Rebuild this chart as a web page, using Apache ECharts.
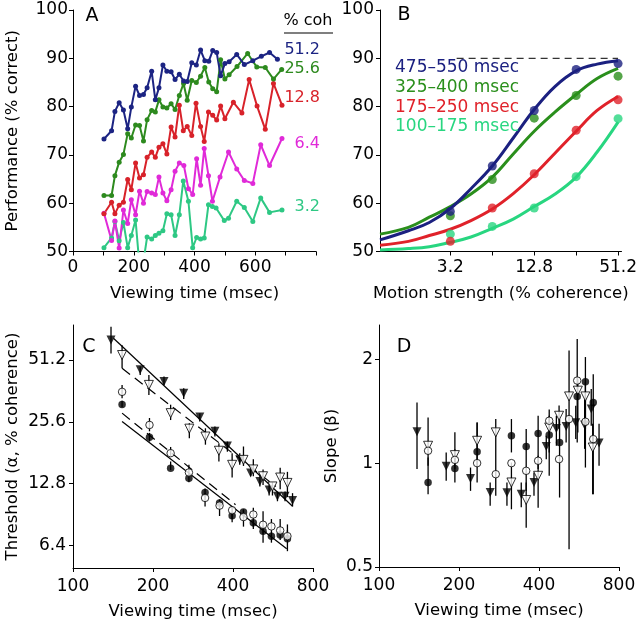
<!DOCTYPE html>
<html><head><meta charset="utf-8">
<script src="https://cdn.jsdelivr.net/npm/echarts@6/dist/echarts.min.js"></script>
<style>html,body{margin:0;padding:0;background:#fff}#c{width:640px;height:625px}</style>
</head><body><div id="c"></div>
<script>
// ---------- Panel A: performance vs viewing time ----------
const cohLabels = ['51.2', '25.6', '12.8', '6.4', '3.2'];
const blueX = [102,127,138,152,166,180,192,206,219,232,244,259,271,283,296,309,323,336,350,364,376,391,406,420,434,447,460,473,486,500,514,539,564,592,620,647,673];
const blueY = [73.3,75.0,79.0,80.8,79.3,75.4,79.9,84.2,82.3,82.5,83.9,87.3,81.4,83.9,88.6,87.3,87.2,85.6,86.7,85.3,85.2,89.1,88.6,91.7,89.5,89.4,91.6,91.2,86.4,88.9,89.3,90.8,88.7,89.5,90.4,91.2,89.8];
const greenX = [102,127,138,152,166,180,192,206,219,232,244,259,271,283,296,309,323,336,350,364,376,391,406,420,434,447,460,473,486,500,514,540,575,605,633,660,687];
const greenY = [61.6,61.6,65.7,68.5,70.1,74.4,73.5,76.2,76.1,72.9,77.3,79.2,78.9,81.4,79.9,79.7,80.6,79.4,82.3,84.8,81.3,85.4,85.0,86.3,88.1,85.1,83.7,83.1,89.7,85.7,86.6,88.3,91.0,88.2,88.1,85.7,87.7];
const redX = [102,127,138,152,166,180,192,206,219,232,244,259,271,283,296,309,323,336,350,363,376,391,405,420,432,446,460,473,486,500,528,556,580,606,633,660,688];
const redY = [57.8,60.2,57.8,59.6,60.2,64.9,62.8,68.3,65.2,65.9,69.5,70.6,69.5,71.6,72.3,70.2,75.8,73.7,80.3,75.0,75.9,74.0,80.7,75.9,72.8,78.9,78.2,77.2,80.1,77.5,80.9,78.7,85.6,80.1,75.3,84.8,80.3];
const magX = [102,127,138,152,166,180,192,206,219,232,244,259,271,283,296,309,323,336,350,365,380,394,407,420,432,446,459,484,512,539,564,592,618,647,688];
const magY = [57.9,52.3,56.3,50.7,58.6,55.8,60.7,57.6,62.5,60.0,62.4,62.1,61.8,65.4,62.1,60.5,62.8,66.6,68.3,67.8,63.0,61.8,69.2,63.7,71.3,65.7,60.4,65.4,70.6,67.1,64.7,64.1,72.1,67.8,73.4];
const tealX = [102,127,138,152,166,180,192,206,219,232,244,259,271,283,296,309,323,336,350,363,380,394,407,420,432,446,459,471,498,512,539,564,592,618,647,688];
const tealY = [50.8,52.8,56.2,52.2,56.0,50.8,53.3,56.5,47.0,48.0,53.0,52.6,53.3,53.8,54.3,57.8,57.6,53.3,57.6,64.6,60.4,50.8,52.9,52.6,52.8,59.7,59.3,59.0,56.4,56.9,60.4,59.1,56.2,61.1,58.1,58.6];

// ---------- Panel B: psychometric functions ----------
const bLabels = ['475\u2013550 msec', '325\u2013400 msec', '175\u2013250 msec', '100\u2013175 msec'];
const bCoh = [3.2, 6.4, 12.8, 25.6, 51.2];
const bLabelCoh = [3.2, 12.8, 51.2];
const b475 = [58.3, 67.7, 79.2, 87.7, 88.9];
const b325 = [57.4, 64.9, 77.6, 82.3, 86.3];
const b175 = [52.1, 59.0, 66.1, 75.1, 81.4];
const b100 = [53.6, 55.2, 59.0, 65.5, 77.5];
const fitCoh = [1.0, 1.6, 2.26, 3.2, 4.5, 6.4, 9.05, 12.8, 18.1, 25.6, 36.2, 51.2];
const fit475 = [52.4, 54.3, 56.0, 58.9, 63.0, 67.7, 73.5, 79.4, 84.2, 87.4, 88.8, 89.5];
const fit325 = [53.6, 55.0, 57.1, 59.3, 61.9, 65.4, 70.2, 74.9, 78.9, 82.5, 85.8, 87.9];
const fit175 = [51.3, 52.1, 53.3, 54.6, 56.4, 58.8, 62.0, 65.9, 70.4, 74.9, 79.2, 82.1];
const fit100 = [50.3, 50.6, 51.0, 51.9, 53.0, 54.8, 56.7, 59.3, 61.9, 65.4, 70.6, 76.8];
const dashCoh = [3.55, 51.2];
const dashVal = [90, 90];

// ---------- Panel C: threshold vs viewing time (log-log) ----------
const cTimeTicks = [100, 200, 400, 800];
const cThrTicks = [6.4, 12.8, 25.6, 51.2];
const cFtX = [139,179,220,261,300,342,381,424,466,505,547,588,628,670];
const cFtY = [64.0,45.8,40.2,35.2,27.0,23.0,19.5,16.7,14.4,13.1,11.9,11.1,11.1,10.6];
const cFtLo = [55.1,43.2,38.7,33.0,25.7,21.7,18.3,15.8,13.9,12.4,11.2,10.5,10.5,9.9];
const cFtHi = [74.3,47.5,42.5,37.3,28.2,24.3,20.5,18.0,15.6,14.2,12.6,11.7,11.7,11.5];
const cOtX = [153,193,233,274,315,354,397,438,477,519,563,602,641];
const cOtY = [54.1,38.7,28.2,23.7,21.7,18.5,15.8,16.7,15.0,13.9,12.4,13.7,12.9];
const cOtLo = [46.6,34.6,26.1,21.3,19.8,16.4,13.7,15.6,13.9,12.6,11.2,12.0,11.0];
const cOtHi = [60.4,43.2,31.0,25.2,23.8,20.1,18.0,19.4,16.8,15.0,13.0,15.3,14.6];
const cFcX = [153,194,233,273,314,356,397,438,477,519,558,602,641];
const cFcY = [31.1,21.5,15.2,13.6,11.6,10.3,8.93,9.3,8.25,7.5,7.1,7.2,6.9];
const cFcLo = [30.1,20.5,14.9,13.0,11.1,9.7,8.3,8.7,7.7,6.6,6.6,6.8,6.0];
const cFcHi = [32.4,22.6,16.4,14.3,12.1,10.7,9.1,9.5,8.5,8.0,7.4,7.6,8.1];
const cOcX = [153,194,233,273,314,356,397,438,477,519,558,602,641];
const cOcY = [35.8,24.7,18.0,14.5,10.9,10.0,9.5,8.8,9.05,8.07,7.92,7.57,7.1];
const cOcLo = [33.3,23.0,17.4,13.9,9.9,8.9,8.6,7.9,7.9,7.3,7.2,7.2,6.85];
const cOcHi = [38.7,26.7,19.3,15.8,11.5,10.7,9.9,9.6,9.75,9.4,8.6,8.6,7.6];
const cFitFtX = [142, 670], cFitFtY = [65.3, 9.93];
const cFitOtX = [153, 580], cFitOtY = [46.6, 12.4];
const cFitFcX = [153, 637], cFitFcY = [25.7, 6.16];
const cFitOcX = [153, 409], cFitOcY = [28.2, 10.1];

// ---------- Panel D: slope vs viewing time (log-log) ----------
const dSlopeTicks = [0.5, 1, 2];
const dFtX = [139,179,221,262,303,343,383,426,465,506,550,594,629,673];
const dFtY = [1.233,0.98,0.903,0.822,0.82,0.813,0.879,1.118,1.26,1.278,1.31,1.289,1.434,1.143];
const dFtLo = [0.961,0.889,0.831,0.752,0.752,0.745,0.804,1.027,1.123,1.148,1.174,1.10,1.283,0.982];
const dFtHi = [1.50,1.074,0.971,0.879,0.879,0.879,0.939,1.20,1.372,1.435,1.467,1.53,1.64,1.30];
const dOtX = [153,193,234,275,315,358,397,437,476,519,560,598,637];
const dOtY = [1.123,1.055,1.161,1.228,0.879,0.782,0.919,1.269,1.372,1.561,1.622,1.561,1.11];
const dOtLo = [0.982,0.961,0.982,0.804,0.735,0.650,0.743,0.919,1.255,0.563,1.227,1.255,0.813];
const dOtHi = [1.357,1.228,1.312,1.342,1.004,0.879,1.05,1.43,1.47,2.12,1.75,1.715,1.30];
const dFcX = [153,193,234,315,358,397,437,478,557,598,640];
const dFcY = [0.879,0.965,1.079,1.20,1.118,1.219,1.206,1.148,1.561,1.72,1.50];
const dFcLo = [0.813,0.879,0.879,1.074,0.831,0.961,1.074,0.795,1.148,0.971,0.813];
const dFcHi = [1.038,1.098,1.312,1.342,1.255,1.372,1.372,1.342,2.29,2.03,1.81];
const dOcX = [153,193,234,275,315,358,397,437,476,519,557,598,640];
const dOcY = [1.086,1.022,1.0,0.929,1.0,0.95,1.016,1.327,1.027,1.342,1.735,1.318,1.174];

// ---------- build ----------
const FONT = 'DejaVu Sans';
const COL_A = ['#1c2483', '#2d8a1e', '#d8222a', '#e02ad8', '#2ec884'];
const COL_B = ['#1b2080', '#2a8f1c', '#e0222a', '#28d680'];
const L2 = Math.log2;
const zip = (xs, ys) => xs.map((x, i) => [x, ys[i]]);
const zipLog = (xs, ys) => xs.map((x, i) => [L2(x), L2(ys[i])]);
const zipLogX = (xs, ys) => xs.map((x, i) => [L2(x), ys[i]]);
const errData = (xs, lo, hi) => xs.map((x, i) => [L2(x), L2(lo[i]), L2(hi[i])]);
const logFmt = v => String(Math.round(Math.pow(2, v) * 10) / 10);

function axis(o) {
  return Object.assign({
    type: 'value',
    axisLine: { show: true, onZero: false, lineStyle: { color: '#000', width: 1 } },
    axisTick: { show: true, length: 4, lineStyle: { color: '#000', width: 1 } },
    splitLine: { show: false },
    nameTextStyle: { color: '#000', fontSize: 16.5, fontFamily: FONT, fontWeight: 'normal' }
  }, o);
}
function lbl(o) { return Object.assign({ color: '#000', fontSize: 17, fontFamily: FONT, fontWeight: 'normal' }, o); }

function errItem(params, api) {
  const p1 = api.coord([api.value(0), api.value(1)]);
  const p2 = api.coord([api.value(0), api.value(2)]);
  return { type: 'line', shape: { x1: p1[0], y1: p1[1], x2: p2[0], y2: p2[1] },
           style: { stroke: '#000', lineWidth: 1.3 } };
}
function errSeries(gi, xs, lo, hi) {
  return { type: 'custom', xAxisIndex: gi, yAxisIndex: gi, renderItem: errItem,
           data: errData(xs, lo, hi), encode: { x: 0, y: [1, 2] }, z: 2, silent: true };
}
function markSeries(gi, data, kind) {
  const filled = kind === 'ft' || kind === 'fc';
  const tri = kind === 'ft' || kind === 'ot';
  return { type: 'scatter', xAxisIndex: gi, yAxisIndex: gi, data: data,
           symbol: tri ? 'triangle' : 'circle', symbolRotate: tri ? 180 : 0,
           symbolSize: tri ? 9 : 7.5,
           itemStyle: { color: filled ? '#000' : '#fff', borderColor: '#000', borderWidth: filled ? 0 : 1 },
           z: 4, silent: true };
}
function fitLine(gi, xs, ys, dashed) {
  return { type: 'line', xAxisIndex: gi, yAxisIndex: gi, data: zipLog(xs, ys), symbol: 'none',
           lineStyle: { color: '#000', width: 1.2, type: dashed ? [10, 6] : 'solid' }, z: 3, silent: true };
}

const aSeries = [[tealX, tealY, 4], [magX, magY, 3], [redX, redY, 2], [greenX, greenY, 1], [blueX, blueY, 0]]
  .map(([xs, ys, c]) => ({
    type: 'line', xAxisIndex: 0, yAxisIndex: 0, data: zip(xs, ys),
    symbol: 'circle', symbolSize: 5, lineStyle: { color: COL_A[c], width: 2 },
    itemStyle: { color: COL_A[c] }, z: 3, silent: true
  }));

const bPts = [b475, b325, b175, b100];
const bFits = [fit475, fit325, fit175, fit100];
const bSeries = [];
[3, 2, 1, 0].forEach(i => {
  bSeries.push({ type: 'line', xAxisIndex: 1, yAxisIndex: 1, data: zipLogX(fitCoh, bFits[i]),
    symbol: 'none', smooth: 0.4, lineStyle: { color: COL_B[i], width: 3 }, z: 3, silent: true });
  bSeries.push({ type: 'scatter', xAxisIndex: 1, yAxisIndex: 1, data: zipLogX(bCoh, bPts[i]),
    symbol: 'circle', symbolSize: 9, itemStyle: { color: COL_B[i] }, z: 4, silent: true });
});
bSeries.push({ type: 'line', xAxisIndex: 1, yAxisIndex: 1, data: zipLogX(dashCoh, dashVal), symbol: 'none',
  lineStyle: { color: '#000', width: 1, type: [7, 5] }, z: 2, silent: true });

const cSeries = [
  errSeries(2, cFtX, cFtLo, cFtHi), errSeries(2, cOtX, cOtLo, cOtHi),
  errSeries(2, cFcX, cFcLo, cFcHi), errSeries(2, cOcX, cOcLo, cOcHi),
  fitLine(2, cFitFtX, cFitFtY, false), fitLine(2, cFitOtX, cFitOtY, true),
  fitLine(2, cFitFcX, cFitFcY, false), fitLine(2, cFitOcX, cFitOcY, true),
  markSeries(2, zipLog(cFtX, cFtY), 'ft'), markSeries(2, zipLog(cOtX, cOtY), 'ot'),
  markSeries(2, zipLog(cFcX, cFcY), 'fc'), markSeries(2, zipLog(cOcX, cOcY), 'oc')
];
const dSeries = [
  errSeries(3, dFtX, dFtLo, dFtHi), errSeries(3, dOtX, dOtLo, dOtHi), errSeries(3, dFcX, dFcLo, dFcHi),
  markSeries(3, zipLog(dFtX, dFtY), 'ft'), markSeries(3, zipLog(dOtX, dOtY), 'ot'),
  markSeries(3, zipLog(dFcX, dFcY), 'fc'), markSeries(3, zipLog(dOcX, dOcY), 'oc')
];

const txt = (x, y, s, opt) => ({ type: 'text', x: x, y: y, silent: true, z: 10,
  style: Object.assign({ text: s, fill: '#000', fontSize: 17, fontFamily: FONT, fontWeight: 'normal', align: 'center', verticalAlign: 'middle' }, opt || {}) });

const legendAY = [50, 69, 98, 144, 207];
const legendBY = [68, 88, 108, 127];
const graphic = [
  txt(92, 16, 'A', { fontSize: 19 }), txt(404, 15, 'B', { fontSize: 19 }),
  txt(89, 347, 'C', { fontSize: 19 }), txt(404, 347, 'D', { fontSize: 19 }),
  txt(308, 21, '% coh', { fontSize: 16 }),
  { type: 'line', silent: true, shape: { x1: 284, y1: 33, x2: 333, y2: 33 }, style: { stroke: '#000', lineWidth: 1.2 } }
].concat(cohLabels.map((s, i) => txt(320, legendAY[i], s, { fontSize: 16, fill: COL_A[i], align: 'right' })))
 .concat(bLabels.map((s, i) => txt(395, legendBY[i], s, { fontSize: 17, fill: COL_B[i], align: 'left' })));

const option = {
  animation: false,
  backgroundColor: '#fff',
  textStyle: { fontFamily: FONT },
  grid: [
    { left: 73, top: 10, width: 243, height: 241.5 },
    { left: 380, top: 10, width: 242, height: 241.5 },
    { left: 73, top: 325, width: 240, height: 243 },
    { left: 379, top: 325, width: 240, height: 242 }
  ],
  xAxis: [
    axis({ gridIndex: 0, min: 0, max: 800, interval: 100,
      axisLabel: lbl({ margin: 8, formatter: v => (v % 200 === 0 && v < 800) ? String(v) : '' }),
      name: 'Viewing time (msec)', nameLocation: 'middle', nameGap: 34 }),
    axis({ gridIndex: 1, min: 0, max: 5.76,
      axisTick: { show: true, length: 4, lineStyle: { color: '#000' }, customValues: bCoh.map(L2) },
      axisLabel: lbl({ margin: 8, customValues: bLabelCoh.map(L2), formatter: logFmt }),
      name: 'Motion strength (% coherence)', nameLocation: 'middle', nameGap: 34 }),
    axis({ gridIndex: 2, min: L2(100), max: L2(800),
      axisTick: { show: true, length: 4, lineStyle: { color: '#000' }, customValues: cTimeTicks.map(L2) },
      axisLabel: lbl({ margin: 10, customValues: cTimeTicks.map(L2), formatter: logFmt }),
      name: 'Viewing time (msec)', nameLocation: 'middle', nameGap: 35 }),
    axis({ gridIndex: 3, min: L2(100), max: L2(800),
      axisTick: { show: true, length: 4, lineStyle: { color: '#000' }, customValues: cTimeTicks.map(L2) },
      axisLabel: lbl({ margin: 10, customValues: cTimeTicks.map(L2), formatter: logFmt }),
      name: 'Viewing time (msec)', nameLocation: 'middle', nameGap: 35 })
  ],
  yAxis: [
    axis({ gridIndex: 0, min: 50, max: 100, interval: 10, axisLabel: lbl({ margin: 5 }),
      name: 'Performance (% correct)', nameLocation: 'middle', nameRotate: 90, nameGap: 52 }),
    axis({ gridIndex: 1, min: 50, max: 100, interval: 10, axisLabel: lbl({ margin: 6 }) }),
    axis({ gridIndex: 2, min: 2.313, max: 6.243,
      axisTick: { show: true, length: 4, lineStyle: { color: '#000' }, customValues: cThrTicks.map(L2) },
      axisLabel: lbl({ margin: 7, customValues: cThrTicks.map(L2), formatter: logFmt }),
      name: 'Threshold (\u03b1, % coherence)', nameLocation: 'middle', nameRotate: 90, nameGap: 52 }),
    axis({ gridIndex: 3, min: -1, max: 1.33,
      axisTick: { show: true, length: 4, lineStyle: { color: '#000' }, customValues: dSlopeTicks.map(L2) },
      axisLabel: lbl({ margin: 6, customValues: dSlopeTicks.map(L2), formatter: logFmt }),
      name: 'Slope (\u03b2)', nameLocation: 'middle', nameRotate: 90, nameGap: 39 })
  ],
  graphic: graphic,
  series: aSeries.concat(bSeries, cSeries, dSeries)
};

const chart = echarts.init(document.getElementById('c'), null, { renderer: 'canvas', width: 640, height: 625 });
chart.setOption(option);
</script></body></html>
